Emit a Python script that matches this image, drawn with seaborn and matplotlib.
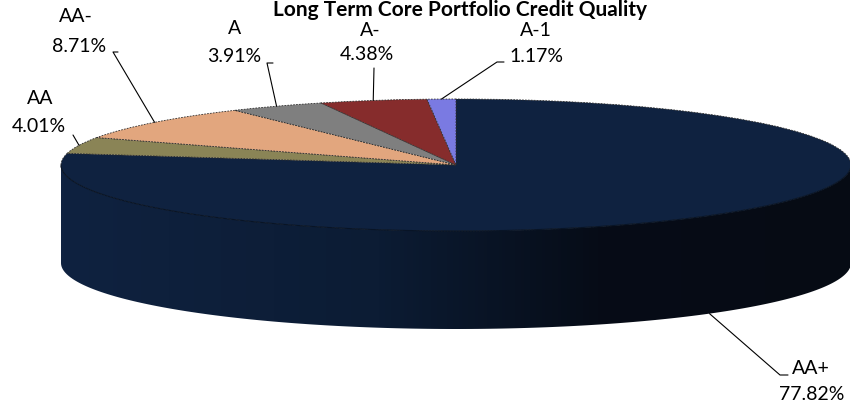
import numpy as np
import matplotlib
matplotlib.use('Agg')
import matplotlib.pyplot as plt
import seaborn as sns
from matplotlib.patches import Polygon
from matplotlib.colors import LinearSegmentedColormap

sns.set_theme(style='white')
plt.rcParams['font.family'] = ['Lato', 'DejaVu Sans']

# chart data
labels = ['AA+', 'AA', 'AA-', 'A', 'A-', 'A-1']
shares = [77.82, 4.01, 8.71, 3.91, 4.38, 1.17]
colors = ['#0f2240', '#8a8456', '#e2a67e', '#7f7f7f', '#862c2c', '#7a7ae2']
title = 'Long Term Core Portfolio Credit Quality'

# label layout in pixels (x, y from top): name, percent, leader elbow points
name_pos = [(811, 368), (40, 98), (76, 17), (235, 29), (370, 31), (536, 31)]
pct_pos = [(812, 395), (39, 127), (79, 46), (234, 56), (367, 55), (536, 56)]
elbows = [[(788, 375), (780, 375)], [(73, 135)], [(118, 52), (113, 52)],
          [(273, 63), (267, 63)], [(374, 68)], [(504, 62), (497, 62)]]

# ellipse geometry in pixels
cx, cy, rx, ry, depth_px = 456, 165, 395, 66, 98
depth = depth_px / ry


def px(x, y):
    return (x - cx) / rx, (cy - y) / ry


fig = plt.figure(figsize=(8.5, 4.07), dpi=100)
ax = fig.add_axes([0, 0, 1, 1])

wedges, _ = ax.pie(shares, colors=colors, startangle=90, counterclock=False,
                   radius=1, center=(0, 0),
                   wedgeprops=dict(edgecolor='#2e2e2e', linewidth=0.6,
                                   linestyle=(0, (2, 1.5))))
for w in wedges:
    w.set_zorder(3)

# side wall of the 3d pie (front half only)
side_cmap = LinearSegmentedColormap.from_list(
    'side', [(0, '#0f2240'), (0.4, '#0c1c34'), (0.68, '#060c17'), (1, '#060b14')])
for w in wedges:
    for off in (-360, 0, 360):
        lo = max(w.theta1, 180 + off)
        hi = min(w.theta2, 360 + off)
        if lo >= hi:
            continue
        t = np.radians(np.linspace(lo, hi, 200))
        top = np.column_stack([np.cos(t), np.sin(t)])
        bot = np.column_stack([np.cos(t[::-1]), np.sin(t[::-1]) - depth])
        poly = Polygon(np.vstack([top, bot]), closed=True, facecolor='none',
                       edgecolor='none', transform=ax.transData)
        ax.add_patch(poly)
        grad = np.linspace(0, 1, 256).reshape(1, -1)
        im = ax.imshow(grad, cmap=side_cmap, aspect='auto',
                       extent=[-1, 1, -1 - depth, 0], zorder=1)
        im.set_clip_path(poly)
        ax.plot(top[:, 0], top[:, 1], color='#081426', lw=0.8, zorder=4)

# labels with leader lines
for i, w in enumerate(wedges):
    m = np.radians((w.theta1 + w.theta2) / 2)
    ex, ey = np.cos(m), np.sin(m)
    if ey < 0:
        ey -= depth
    pts = [(ex, ey)] + [px(*p) for p in reversed(elbows[i])]
    xs, ys = zip(*pts)
    ax.plot(xs, ys, color='black', lw=0.8, zorder=5)
    ax.text(*px(*name_pos[i]), labels[i], ha='center', va='center',
            fontsize=14, color='black', zorder=6)
    ax.text(*px(*pct_pos[i]), f'{shares[i]:.2f}%', ha='center', va='center',
            fontsize=14, color='black', zorder=6)

ax.set_xlim(-cx / rx, (850 - cx) / rx)
ax.set_ylim(-(407 - cy) / ry, cy / ry)
ax.set_aspect('auto')
ax.axis('off')

fig.text(460 / 850, 1 - 15.5 / 407, title, ha='center', va='baseline',
         fontsize=15, fontweight='bold', color='black')

fig.savefig('out.png', dpi=100, facecolor='white')
